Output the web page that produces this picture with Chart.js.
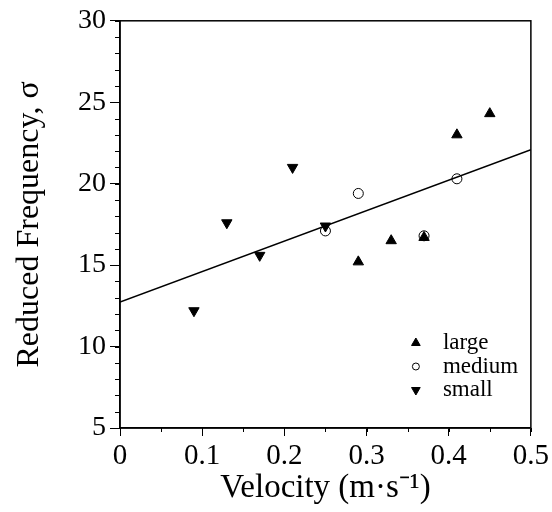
<!DOCTYPE html>
<html>
<head>
    <title>Reduced Frequency vs Velocity</title>
    <script src="https://cdn.jsdelivr.net/npm/chart.js"></script>
    <style>
        html, body { margin: 0; padding: 0; background: #fff; }
        #wrap { width: 552px; height: 512px; }
    </style>
</head>
<body>
    <div id="wrap"><canvas id="scatterChart" width="552" height="512"></canvas></div>

    <script>
        // Values
        const largeX = [0.29, 0.33, 0.37, 0.41, 0.45];
        const largeY = [15.2, 16.5, 16.7, 23.0, 24.3];
        const mediumX = [0.25, 0.29, 0.37, 0.41];
        const mediumY = [17.1, 19.4, 16.8, 20.3];
        const smallX = [0.09, 0.13, 0.17, 0.21, 0.25];
        const smallY = [12.2, 17.6, 15.6, 21.0, 17.4];
        const fitX = [0, 0.5];
        const fitY = [12.74, 22.08];
        const seriesNames = ['large', 'medium', 'small'];

        const SERIF = "'Liberation Serif', 'Times New Roman', serif";

        function toPoints(xs, ys) {
            return xs.map((x, i) => ({x: x, y: ys[i]}));
        }

        // Minor ticks, frame and the in-plot legend
        const framePlugin = {
            id: 'frame',
            afterDraw(chart) {
                const ctx = chart.ctx;
                const a = chart.chartArea;
                const xs = chart.scales.x;
                const ys = chart.scales.y;
                ctx.save();
                ctx.strokeStyle = '#000';
                ctx.lineWidth = 1.5;
                ctx.strokeRect(a.left, a.top, a.right - a.left, a.bottom - a.top);

                ctx.lineWidth = 1;
                ctx.beginPath();
                for (let v = 5; v <= 30; v += 1) {
                    const py = Math.round(ys.getPixelForValue(v)) + 0.5;
                    ctx.moveTo(a.left - 5, py);
                    ctx.lineTo(a.left, py);
                }
                for (let k = 0; k <= 10; k++) {
                    const px = Math.round(xs.getPixelForValue(k * 0.05)) + 0.5;
                    ctx.moveTo(px, a.bottom);
                    ctx.lineTo(px, a.bottom + 4);
                }
                ctx.stroke();

                // legend
                const styles = chart.data.datasets.slice(0, 3);
                ctx.font = '23px ' + SERIF;
                ctx.textBaseline = 'middle';
                styles.forEach((ds, i) => {
                    const sy = a.bottom - 85 + i * 23.5;
                    const sx = a.right - 115;
                    ctx.fillStyle = ds.pointBackgroundColor;
                    ctx.strokeStyle = '#000';
                    ctx.lineWidth = 1;
                    Chart.helpers.drawPoint(ctx, {
                        pointStyle: ds.pointStyle,
                        rotation: ds.rotation || 0,
                        radius: ds.pointStyle === 'circle' ? 3.5 : 5,
                        borderWidth: 1
                    }, sx, sy);
                    ctx.fillStyle = '#000';
                    ctx.fillText(ds.label, a.right - 88, sy);
                });
                ctx.restore();
            }
        };

        function markerStyle(style, rot, fill) {
            return {
                pointStyle: style,
                rotation: rot,
                pointRadius: style === 'circle' ? 5 : 6,
                pointBackgroundColor: fill,
                pointBorderColor: '#000',
                pointBorderWidth: 1,
                backgroundColor: fill,
                borderColor: '#000',
                showLine: false
            };
        }

        const ctx = document.getElementById('scatterChart').getContext('2d');
        new Chart(ctx, {
            type: 'scatter',
            data: {
                datasets: [
                    Object.assign({label: seriesNames[0], data: toPoints(largeX, largeY)}, markerStyle('triangle', 0, '#000')),
                    Object.assign({label: seriesNames[1], data: toPoints(mediumX, mediumY)}, markerStyle('circle', 0, 'rgba(255,255,255,0)')),
                    Object.assign({label: seriesNames[2], data: toPoints(smallX, smallY)}, markerStyle('triangle', 180, '#000')),
                    {
                        label: 'fit',
                        data: toPoints(fitX, fitY),
                        showLine: true,
                        borderColor: '#000',
                        borderWidth: 1.5,
                        pointRadius: 0,
                        fill: false
                    }
                ]
            },
            options: {
                responsive: false,
                animation: false,
                layout: {
                    padding: {left: 10, top: 20, right: 16, bottom: 0}
                },
                plugins: {
                    legend: {display: false},
                    tooltip: {enabled: false}
                },
                scales: {
                    x: {
                        type: 'linear',
                        min: 0,
                        max: 0.5,
                        afterFit: s => { s.height = 84; },
                        ticks: {
                            stepSize: 0.1,
                            color: '#000',
                            padding: 3,
                            font: {family: SERIF, size: 29},
                            callback: v => v === 0 ? '0' : v.toFixed(1)
                        },
                        grid: {drawOnChartArea: false, tickLength: 8, color: '#000'},
                        border: {color: '#000', width: 1.5},
                        title: {
                            display: true,
                            text: 'Velocity (m·s⁻¹)',
                            color: '#000',
                            padding: {top: 0, bottom: 4},
                            font: {family: SERIF, size: 33}
                        }
                    },
                    y: {
                        min: 5,
                        max: 30,
                        afterFit: s => { s.width = 110; },
                        ticks: {
                            stepSize: 5,
                            color: '#000',
                            padding: 4,
                            font: {family: SERIF, size: 28}
                        },
                        grid: {drawOnChartArea: false, tickLength: 10, color: '#000'},
                        border: {color: '#000', width: 1.5},
                        title: {
                            display: true,
                            text: 'Reduced Frequency, σ',
                            color: '#000',
                            padding: {top: 0, bottom: 0},
                            font: {family: SERIF, size: 32}
                        }
                    }
                }
            },
            plugins: [framePlugin]
        });
    </script>
</body>
</html>
